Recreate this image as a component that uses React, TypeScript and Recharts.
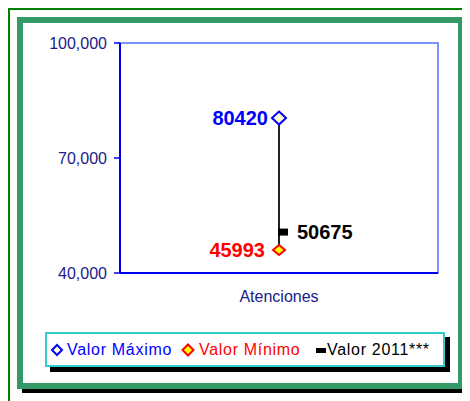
import React from 'react'
import {
  Bar,
  ComposedChart,
  LabelList,
  Line,
  ReferenceArea,
  XAxis,
  YAxis
} from 'recharts'

const categories = ['Atenciones']
const maxValues = [80420]
const minValues = [45993]
const values2011 = [50675]
const yTicks = [40000, 70000, 100000]

const data = categories.map((name, i) => ({
  name,
  max: maxValues[i],
  min: minValues[i],
  v2011: values2011[i],
  range: [minValues[i], maxValues[i]]
}))

const FONT = "Arial, 'Liberation Sans', sans-serif"

const renderMaxDot = (props: any) => {
  const { cx, cy, key } = props
  return (
    <polygon
      key={key}
      points={`${cx},${cy - 6.5} ${cx + 7},${cy} ${cx},${cy + 6.5} ${cx - 7},${cy}`}
      fill="#ffffcc"
      stroke="#0000ff"
      strokeWidth={2}
    />
  )
}

const renderMinDot = (props: any) => {
  const { cx, cy, key } = props
  return (
    <polygon
      key={key}
      points={`${cx},${cy - 5} ${cx + 6},${cy} ${cx},${cy + 5} ${cx - 6},${cy}`}
      fill="#ffff00"
      stroke="#ff0000"
      strokeWidth={2}
    />
  )
}

const renderDashDot = (props: any) => {
  const { cx, cy, key } = props
  return <rect key={key} x={cx - 1} y={cy - 3.5} width={10} height={7} fill="#000" />
}

function LegendBox () {
  const item = {
    position: 'absolute' as const,
    top: 0,
    height: 31,
    display: 'flex',
    alignItems: 'center',
    whiteSpace: 'nowrap' as const
  }
  return (
    <div
      style={{
        position: 'absolute',
        left: 37,
        top: 324,
        width: 400,
        height: 35,
        boxSizing: 'border-box',
        border: '2px solid #33cccc',
        background: '#fff',
        boxShadow: '5px 5px 0 #000',
        fontFamily: FONT,
        fontSize: 16,
        letterSpacing: 0.7
      }}
    >
      <span style={{ ...item, left: 3, color: '#0000ff' }}>
        <svg width={15} height={14} style={{ marginRight: 2 }}>
          <polygon points="7,2 12,7 7,12 2,7" fill="#ffffcc" stroke="#0000ff" strokeWidth={2} />
        </svg>
        Valor Máximo
      </span>
      <span style={{ ...item, left: 134, color: '#ff0000' }}>
        <svg width={16} height={14} style={{ marginRight: 2 }}>
          <polygon points="7,1.5 12.5,7 7,12.5 1.5,7" fill="#ffff00" stroke="#ff0000" strokeWidth={2} />
        </svg>
        Valor Mínimo
      </span>
      <span style={{ ...item, left: 268, color: '#000' }}>
        <svg width={12} height={14}>
          <rect x={1} y={5} width={10} height={5} fill="#000" />
        </svg>
        Valor 2011***
      </span>
    </div>
  )
}

export default function App () {
  return (
    <div style={{ position: 'relative', width: 462, height: 393, overflow: 'hidden' }}>
      <div
        style={{
          position: 'absolute',
          left: 0,
          top: 0,
          width: 462,
          height: 393,
          borderTop: '2px solid #008000',
          borderLeft: '2px solid #008000',
          boxSizing: 'border-box'
        }}
      />
      <div
        style={{
          position: 'absolute',
          left: 9,
          top: 9,
          width: 447,
          height: 372,
          boxSizing: 'border-box',
          border: '6px solid #339966',
          background: '#fff',
          boxShadow: '5px 4px 0 #000'
        }}
      />
      <div style={{ position: 'absolute', left: -8, top: -8 }}>
        <ComposedChart
          width={470}
          height={330}
          data={data}
          margin={{ top: 43, right: 32, left: 0, bottom: 27 }}
        >
          <ReferenceArea y1={40000} y2={100000} fill="none" stroke="#4f70ff" strokeWidth={1.5} />
          <XAxis
            dataKey="name"
            type="category"
            height={30}
            tickLine={false}
            tickMargin={12}
            axisLine={{ stroke: '#0000ee', strokeWidth: 2 }}
            tick={{ fill: '#20208a', fontSize: 16, fontFamily: FONT }}
          />
          <YAxis
            width={120}
            domain={[40000, 100000]}
            ticks={yTicks}
            allowDataOverflow
            tickSize={6}
            tickMargin={7}
            tickFormatter={(v: number) => v.toLocaleString('en-US')}
            axisLine={{ stroke: '#0000ee', strokeWidth: 2 }}
            tickLine={{ stroke: '#0000ee', strokeWidth: 1.5 }}
            tick={{ fill: '#20208a', fontSize: 16, fontFamily: FONT }}
          />
          <Bar dataKey="range" barSize={2} fill="#222" isAnimationActive={false} />
          <Line
            dataKey="max"
            stroke="none"
            dot={renderMaxDot}
            activeDot={false}
            isAnimationActive={false}
          >
            <LabelList
              dataKey="max"
              position="left"
              offset={11}
              fill="#0000ff"
              fontSize={20}
              fontWeight="bold"
              fontFamily={FONT}
            />
          </Line>
          <Line
            dataKey="min"
            stroke="none"
            dot={renderMinDot}
            activeDot={false}
            isAnimationActive={false}
          >
            <LabelList
              dataKey="min"
              position="left"
              offset={14}
              fill="#ff0000"
              fontSize={20}
              fontWeight="bold"
              fontFamily={FONT}
            />
          </Line>
          <Line
            dataKey="v2011"
            stroke="none"
            dot={renderDashDot}
            activeDot={false}
            isAnimationActive={false}
          >
            <LabelList
              dataKey="v2011"
              position="right"
              offset={18}
              fill="#000"
              fontSize={20}
              fontWeight="bold"
              fontFamily={FONT}
            />
          </Line>
        </ComposedChart>
      </div>
      <LegendBox />
    </div>
  )
}
